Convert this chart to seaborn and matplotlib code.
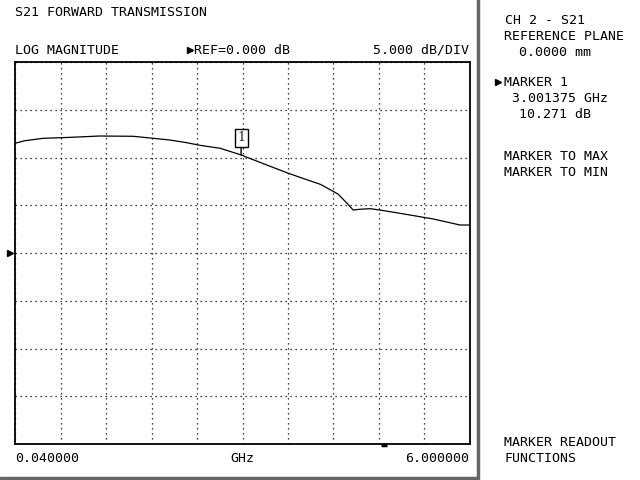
import numpy as np
import pandas as pd
import matplotlib
matplotlib.use('Agg')
import matplotlib.pyplot as plt
import seaborn as sns

# trace
freq_ghz = [0.04, 0.17, 0.41, 0.76, 1.15, 1.59, 1.85, 2.07, 2.29, 2.46, 2.73, 3.00, 3.34, 3.60,
            3.77, 4.04, 4.27, 4.39, 4.47, 4.56, 4.69, 4.82, 5.08, 5.52, 5.87, 6.0]
s21_db = [11.49, 11.76, 12.01, 12.11, 12.25, 12.22, 12.01, 11.83, 11.55, 11.28, 10.96, 10.27,
          9.21, 8.41, 7.93, 7.19, 6.18, 5.20, 4.50, 4.58, 4.64, 4.50, 4.16, 3.56, 2.93, 2.93]

marker_freq = 3.001375
marker_db = 10.271
start_ghz, stop_ghz = 0.04, 6.0
ref_db, db_per_div = 0.0, 5.0

df = pd.DataFrame({'freq': freq_ghz, 'db': s21_db})

sns.set_style('white')
plt.rcParams['font.family'] = ['DejaVu Sans Mono', 'DejaVu Sans']

W, H = 640, 480
fig = plt.figure(figsize=(W / 100, H / 100), dpi=100)
ax = fig.add_axes([15 / W, (H - 444) / H, 455 / W, 382 / H])

sns.lineplot(data=df, x='freq', y='db', ax=ax, color='black', linewidth=0.9)

ax.set_xlim(start_ghz, stop_ghz)
ax.set_ylim(ref_db - 4 * db_per_div, ref_db + 4 * db_per_div)
ax.set_xticks(np.linspace(start_ghz, stop_ghz, 11))
ax.set_yticks(np.arange(-20, 21, 5))
ax.tick_params(length=0, labelbottom=False, labelleft=False)
ax.grid(True, linestyle=(0, (1, 3)), color='black', linewidth=0.9)
ax.set_xlabel('')
ax.set_ylabel('')
for s in ax.spines.values():
    s.set_color('black')
    s.set_linewidth(1.3)

# marker 1 flag
ax.annotate('1', xy=(marker_freq, marker_db), xytext=(0, 17), textcoords='offset pixels',
            ha='center', va='center', fontsize=9, family='DejaVu Serif',
            bbox=dict(boxstyle='square,pad=0.2', fc='white', ec='black', lw=1),
            arrowprops=dict(arrowstyle='-', color='black', lw=1, shrinkA=0, shrinkB=0))

# little active-point bar under the grid
ax.plot([4.83, 4.91], [-20.1, -20.1], color='black', linewidth=2.5, clip_on=False,
        solid_capstyle='butt')


def px_text(x, y, s, ha='left', size=9.5):
    fig.text(x / W, 1 - y / H, s, ha=ha, va='center', fontsize=size, color='black')


px_text(15, 12, 'S21 FORWARD TRANSMISSION')
px_text(15, 50, 'LOG MAGNITUDE')
px_text(194, 50, 'REF=0.000 dB')
px_text(469, 50, '5.000 dB/DIV', ha='right')
px_text(15, 458, '0.040000')
px_text(242, 458, 'GHz', ha='center')
px_text(469, 458, '6.000000', ha='right')

px_text(505, 21, 'CH 2 - S21')
px_text(504, 37, 'REFERENCE PLANE')
px_text(519, 52, '0.0000 mm')
px_text(504, 82, 'MARKER 1')
px_text(512, 98, '3.001375 GHz')
px_text(519, 114, '10.271 dB')
px_text(504, 157, 'MARKER TO MAX')
px_text(504, 173, 'MARKER TO MIN')
px_text(504, 442, 'MARKER READOUT')
px_text(504, 458, 'FUNCTIONS')

# triangles: ref pointer, REF label, active marker
fig.lines.append(plt.Line2D([10 / W], [1 - 253 / H], marker='>', color='black', markersize=5,
                            transform=fig.transFigure, figure=fig))
fig.lines.append(plt.Line2D([190 / W], [1 - 50 / H], marker='>', color='black', markersize=4,
                            transform=fig.transFigure, figure=fig))
fig.lines.append(plt.Line2D([498 / W], [1 - 82 / H], marker='>', color='black', markersize=5,
                            transform=fig.transFigure, figure=fig))

# gray screen frame
fig.lines.append(plt.Line2D([478 / W, 478 / W], [1 - 478 / H, 1], color='#666666', linewidth=2.5,
                            transform=fig.transFigure, figure=fig))
fig.lines.append(plt.Line2D([0, 478 / W], [1 - 477.5 / H, 1 - 477.5 / H], color='#666666',
                            linewidth=2.5, transform=fig.transFigure, figure=fig))

fig.savefig('out.png', dpi=100)
